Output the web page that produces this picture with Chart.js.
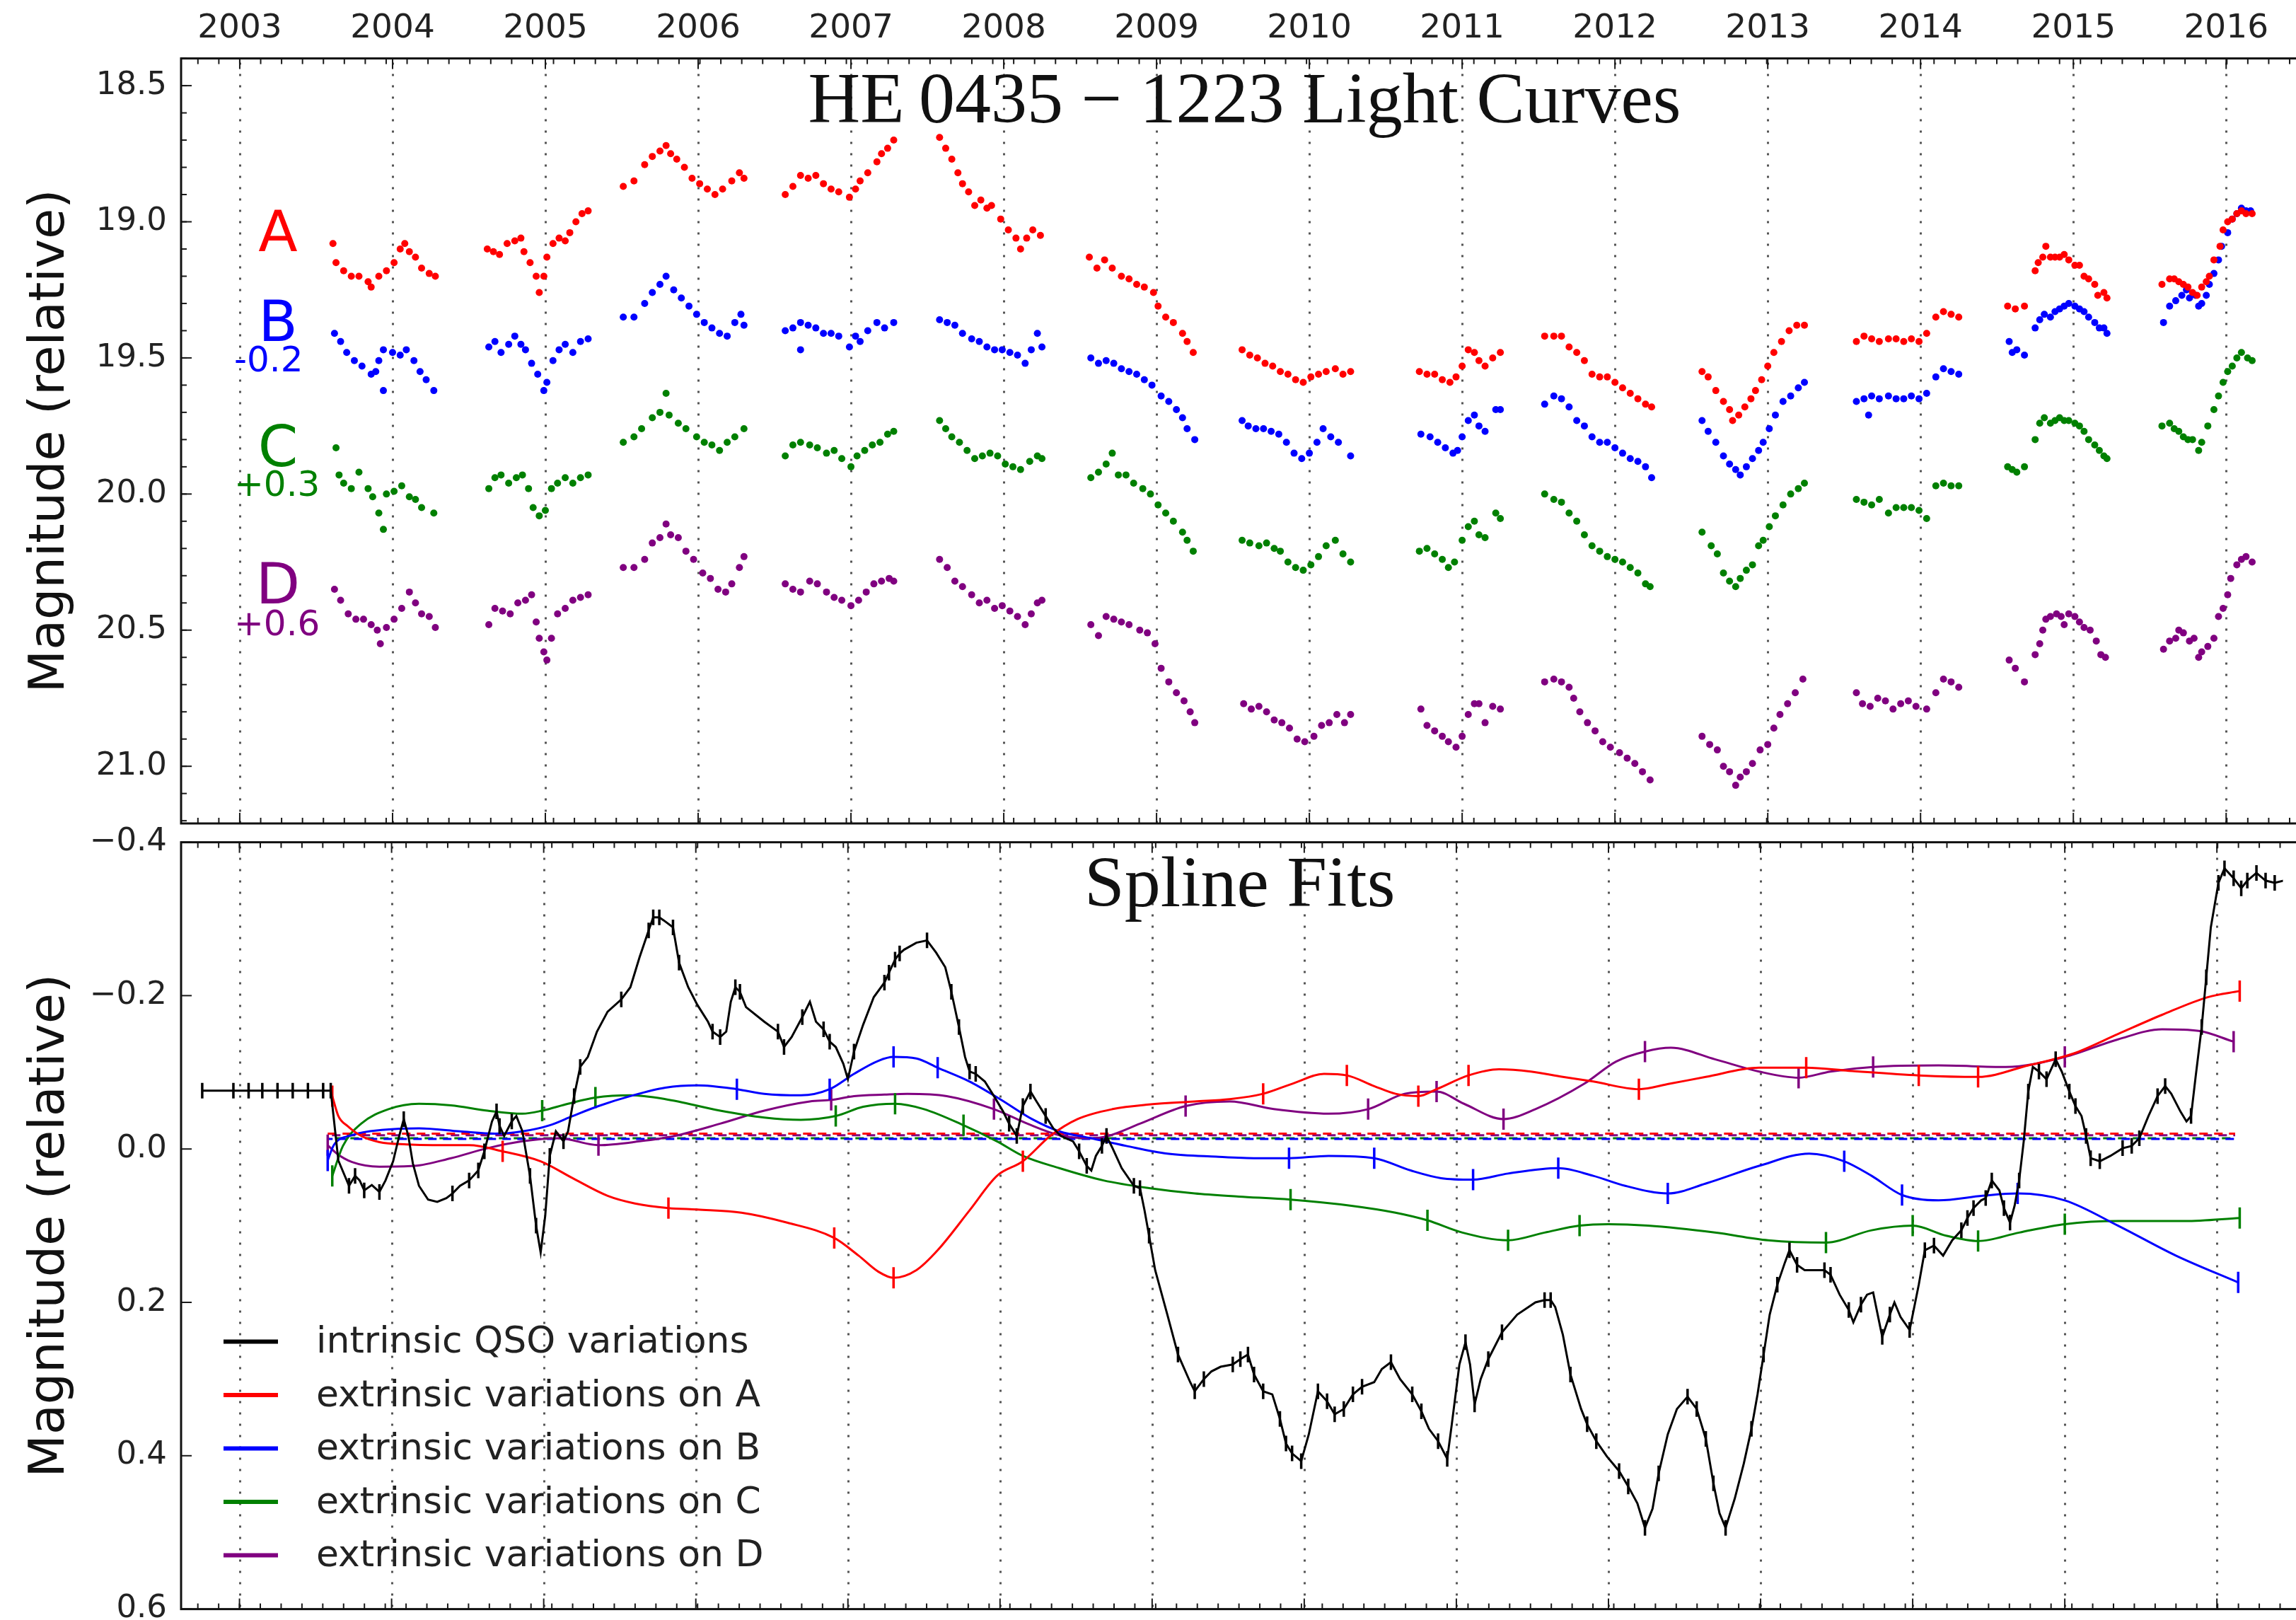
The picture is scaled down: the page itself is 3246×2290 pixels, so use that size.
<!DOCTYPE html>
<html>
<head>
<meta charset="utf-8">
<script src="https://cdn.jsdelivr.net/npm/chart.js@4.4.1/dist/chart.umd.min.js"></script>
<style>
  html, body { margin: 0; padding: 0; background: #ffffff; }
  #wrap { position: relative; width: 3246px; height: 2290px; overflow: hidden; background: #ffffff; }
  #lc { position: absolute; left: 0; top: 0; }
  #sp { position: absolute; left: 0; top: 1100px; }
</style>
</head>
<body>
<div id="wrap">
  <canvas id="lc" width="3246" height="1240"></canvas>
  <canvas id="sp" width="3246" height="1240"></canvas>
</div>
<script>
// ---------------- data ----------------
const yearTicks = [2003, 2004, 2005, 2006, 2007, 2008, 2009, 2010, 2011, 2012, 2013, 2014, 2015, 2016];
const magTicks = [18.5, 19.0, 19.5, 20.0, 20.5, 21.0];
const fitTicks = [-0.4, -0.2, 0.0, 0.2, 0.4, 0.6];

const imageNames = ['A', 'B', 'C', 'D'];
const imageOffsets = [0, -0.2, 0.3, 0.6];   // magnitude shift applied for display

// light curves: [decimal year, magnitude] (unshifted)
const lcA = [
  [2003.61,19.08],[2003.63,19.15],[2003.68,19.18],[2003.73,19.20],[2003.78,19.20],[2003.84,19.22],[2003.86,19.24],[2003.91,19.20],[2003.96,19.18],[2004.01,19.15],[2004.05,19.10],[2004.08,19.08],[2004.11,19.11],[2004.15,19.13],[2004.19,19.17],[2004.24,19.19],[2004.28,19.20],
  [2004.62,19.10],[2004.66,19.11],[2004.70,19.12],[2004.75,19.08],[2004.80,19.07],[2004.84,19.06],[2004.86,19.11],[2004.90,19.15],[2004.94,19.20],[2004.96,19.26],[2004.99,19.20],[2005.01,19.13],[2005.05,19.08],[2005.09,19.06],[2005.13,19.07],[2005.16,19.04],[2005.20,19.00],[2005.24,18.97],[2005.28,18.96],
  [2005.51,18.87],[2005.58,18.85],[2005.65,18.79],[2005.70,18.76],[2005.75,18.74],[2005.79,18.72],[2005.82,18.75],[2005.86,18.77],[2005.91,18.80],[2005.96,18.84],[2006.01,18.86],[2006.06,18.88],[2006.11,18.90],[2006.16,18.88],[2006.22,18.85],[2006.27,18.82],[2006.30,18.84],
  [2006.57,18.90],[2006.62,18.87],[2006.67,18.83],[2006.72,18.84],[2006.77,18.83],[2006.82,18.86],[2006.87,18.88],[2006.92,18.89],[2006.99,18.91],[2007.03,18.88],[2007.06,18.85],[2007.11,18.82],[2007.17,18.78],[2007.20,18.75],[2007.24,18.73],[2007.28,18.70],
  [2007.58,18.69],[2007.62,18.73],[2007.66,18.77],[2007.70,18.82],[2007.73,18.86],[2007.77,18.89],[2007.81,18.94],[2007.85,18.92],[2007.89,18.95],[2007.92,18.94],[2007.98,18.99],[2008.03,19.03],[2008.08,19.06],[2008.11,19.10],[2008.15,19.06],[2008.19,19.03],[2008.24,19.05],
  [2008.56,19.13],[2008.61,19.17],[2008.66,19.14],[2008.71,19.17],[2008.77,19.20],[2008.82,19.21],[2008.87,19.23],[2008.92,19.24],[2008.98,19.26],[2009.01,19.31],[2009.06,19.35],[2009.11,19.37],[2009.17,19.41],[2009.20,19.44],[2009.24,19.48],
  [2009.56,19.47],[2009.61,19.49],[2009.66,19.50],[2009.71,19.52],[2009.76,19.53],[2009.81,19.55],[2009.86,19.56],[2009.91,19.58],[2009.96,19.59],[2010.01,19.57],[2010.06,19.56],[2010.11,19.55],[2010.17,19.54],[2010.22,19.56],[2010.27,19.55],
  [2010.72,19.55],[2010.77,19.56],[2010.82,19.56],[2010.87,19.58],[2010.92,19.59],[2010.96,19.57],[2011.00,19.53],[2011.04,19.47],[2011.08,19.48],[2011.11,19.51],[2011.15,19.53],[2011.20,19.50],[2011.25,19.48],
  [2011.54,19.42],[2011.60,19.42],[2011.65,19.42],[2011.70,19.46],[2011.75,19.48],[2011.80,19.51],[2011.85,19.56],[2011.90,19.57],[2011.95,19.57],[2012.00,19.59],[2012.05,19.61],[2012.10,19.63],[2012.15,19.65],[2012.20,19.67],[2012.24,19.68],
  [2012.57,19.55],[2012.61,19.57],[2012.66,19.62],[2012.71,19.66],[2012.75,19.69],[2012.77,19.73],[2012.81,19.71],[2012.85,19.68],[2012.89,19.65],[2012.92,19.62],[2012.96,19.58],[2013.00,19.53],[2013.04,19.48],[2013.09,19.44],[2013.14,19.40],[2013.19,19.38],[2013.24,19.38],
  [2013.58,19.44],[2013.63,19.42],[2013.68,19.43],[2013.73,19.44],[2013.79,19.43],[2013.84,19.43],[2013.89,19.44],[2013.94,19.43],[2013.99,19.44],[2014.04,19.41],[2014.10,19.35],[2014.15,19.33],[2014.20,19.34],[2014.25,19.35],
  [2014.57,19.31],[2014.62,19.32],[2014.68,19.31],[2014.75,19.18],[2014.77,19.15],[2014.80,19.13],[2014.82,19.09],[2014.85,19.13],[2014.88,19.13],[2014.91,19.13],[2014.94,19.12],[2014.97,19.14],[2015.01,19.16],[2015.04,19.16],[2015.07,19.20],[2015.10,19.21],[2015.14,19.23],[2015.16,19.27],[2015.20,19.26],[2015.22,19.28],
  [2015.58,19.23],[2015.63,19.21],[2015.66,19.21],[2015.69,19.22],[2015.72,19.23],[2015.75,19.24],[2015.78,19.26],[2015.81,19.27],[2015.84,19.24],[2015.87,19.22],[2015.89,19.20],[2015.92,19.14],[2015.96,19.09],[2015.98,19.03],[2016.01,19.00],[2016.04,18.99],[2016.07,18.97],[2016.10,18.96],[2016.13,18.97],[2016.17,18.97]
];
const lcB = [
  [2003.62,19.61],[2003.66,19.64],[2003.70,19.68],[2003.75,19.71],[2003.80,19.73],[2003.86,19.76],[2003.89,19.75],[2003.91,19.71],[2003.94,19.67],[2003.94,19.82],[2004.00,19.68],[2004.05,19.69],[2004.09,19.67],[2004.14,19.71],[2004.18,19.75],[2004.22,19.78],[2004.27,19.82],
  [2004.63,19.66],[2004.67,19.64],[2004.71,19.68],[2004.76,19.65],[2004.80,19.62],[2004.84,19.65],[2004.87,19.67],[2004.91,19.72],[2004.95,19.76],[2004.99,19.82],[2005.01,19.79],[2005.05,19.71],[2005.09,19.67],[2005.13,19.65],[2005.18,19.68],[2005.23,19.64],[2005.28,19.63],
  [2005.51,19.55],[2005.58,19.55],[2005.65,19.50],[2005.70,19.46],[2005.75,19.43],[2005.79,19.40],[2005.84,19.45],[2005.89,19.48],[2005.94,19.51],[2005.99,19.54],[2006.04,19.57],[2006.09,19.59],[2006.14,19.61],[2006.19,19.62],[2006.24,19.57],[2006.28,19.54],[2006.30,19.58],
  [2006.57,19.60],[2006.62,19.59],[2006.67,19.57],[2006.67,19.67],[2006.72,19.58],[2006.77,19.59],[2006.82,19.61],[2006.87,19.61],[2006.92,19.62],[2006.99,19.66],[2007.03,19.62],[2007.06,19.64],[2007.11,19.60],[2007.17,19.57],[2007.22,19.59],[2007.28,19.57],
  [2007.58,19.56],[2007.63,19.57],[2007.68,19.58],[2007.73,19.61],[2007.79,19.63],[2007.84,19.64],[2007.89,19.66],[2007.94,19.67],[2007.99,19.67],[2008.04,19.68],[2008.09,19.69],[2008.14,19.72],[2008.18,19.67],[2008.22,19.61],[2008.25,19.66],
  [2008.57,19.70],[2008.62,19.72],[2008.67,19.71],[2008.72,19.72],[2008.77,19.74],[2008.82,19.75],[2008.87,19.76],[2008.92,19.78],[2008.97,19.80],[2009.03,19.84],[2009.08,19.86],[2009.13,19.89],[2009.17,19.92],[2009.20,19.96],[2009.25,20.00],
  [2009.56,19.93],[2009.60,19.95],[2009.65,19.96],[2009.70,19.96],[2009.75,19.97],[2009.80,19.98],[2009.85,20.01],[2009.90,20.05],[2009.95,20.07],[2010.00,20.05],[2010.05,20.01],[2010.09,19.96],[2010.14,19.99],[2010.19,20.01],[2010.27,20.06],
  [2010.73,19.98],[2010.79,19.99],[2010.84,20.01],[2010.89,20.03],[2010.94,20.05],[2010.97,20.04],[2011.00,19.99],[2011.04,19.93],[2011.08,19.91],[2011.11,19.95],[2011.15,19.97],[2011.22,19.89],[2011.25,19.89],
  [2011.54,19.87],[2011.60,19.84],[2011.65,19.85],[2011.70,19.88],[2011.75,19.93],[2011.80,19.95],[2011.85,19.99],[2011.90,20.01],[2011.95,20.01],[2012.00,20.03],[2012.05,20.05],[2012.10,20.07],[2012.15,20.08],[2012.20,20.10],[2012.24,20.14],
  [2012.57,19.93],[2012.61,19.97],[2012.66,20.01],[2012.71,20.06],[2012.75,20.09],[2012.79,20.11],[2012.82,20.13],[2012.86,20.10],[2012.90,20.07],[2012.94,20.04],[2012.97,20.01],[2013.01,19.96],[2013.05,19.91],[2013.10,19.86],[2013.15,19.84],[2013.20,19.81],[2013.24,19.79],
  [2013.58,19.86],[2013.63,19.85],[2013.66,19.91],[2013.68,19.84],[2013.73,19.85],[2013.79,19.84],[2013.84,19.85],[2013.89,19.85],[2013.94,19.84],[2013.99,19.85],[2014.04,19.83],[2014.10,19.77],[2014.15,19.74],[2014.20,19.75],[2014.25,19.76],
  [2014.58,19.64],[2014.60,19.68],[2014.63,19.67],[2014.68,19.69],[2014.75,19.59],[2014.78,19.56],[2014.81,19.54],[2014.85,19.55],[2014.88,19.53],[2014.91,19.52],[2014.94,19.51],[2014.97,19.50],[2015.01,19.51],[2015.04,19.52],[2015.07,19.53],[2015.10,19.55],[2015.14,19.57],[2015.17,19.59],[2015.20,19.59],[2015.22,19.61],
  [2015.59,19.57],[2015.63,19.51],[2015.67,19.49],[2015.71,19.47],[2015.74,19.45],[2015.76,19.48],[2015.80,19.47],[2015.82,19.51],[2015.84,19.50],[2015.87,19.47],[2015.89,19.43],[2015.92,19.39],[2015.95,19.34],[2015.97,19.29],[2016.01,19.24],[2016.04,19.19],[2016.07,19.17],[2016.10,19.15],[2016.13,19.16],[2016.16,19.16]
];
const lcC = [
  [2003.63,19.53],[2003.65,19.63],[2003.68,19.66],[2003.73,19.68],[2003.78,19.62],[2003.84,19.68],[2003.87,19.71],[2003.91,19.77],[2003.94,19.83],[2003.96,19.70],[2004.01,19.69],[2004.06,19.67],[2004.11,19.71],[2004.15,19.72],[2004.19,19.75],[2004.27,19.77],
  [2004.63,19.68],[2004.67,19.64],[2004.71,19.63],[2004.76,19.66],[2004.81,19.64],[2004.85,19.63],[2004.89,19.68],[2004.92,19.75],[2004.96,19.78],[2005.00,19.76],[2005.04,19.68],[2005.08,19.66],[2005.13,19.64],[2005.18,19.66],[2005.23,19.64],[2005.28,19.63],
  [2005.51,19.51],[2005.58,19.49],[2005.63,19.46],[2005.70,19.42],[2005.75,19.40],[2005.79,19.33],[2005.81,19.41],[2005.87,19.44],[2005.92,19.46],[2005.99,19.49],[2006.04,19.51],[2006.09,19.52],[2006.14,19.54],[2006.19,19.51],[2006.24,19.49],[2006.30,19.46],
  [2006.57,19.56],[2006.62,19.52],[2006.67,19.51],[2006.73,19.52],[2006.78,19.53],[2006.84,19.55],[2006.89,19.54],[2006.94,19.57],[2007.00,19.60],[2007.04,19.56],[2007.09,19.54],[2007.14,19.52],[2007.19,19.51],[2007.24,19.48],[2007.28,19.47],
  [2007.58,19.43],[2007.62,19.46],[2007.66,19.49],[2007.71,19.51],[2007.76,19.54],[2007.81,19.57],[2007.86,19.56],[2007.91,19.55],[2007.96,19.56],[2008.01,19.59],[2008.06,19.60],[2008.11,19.61],[2008.17,19.58],[2008.22,19.56],[2008.25,19.57],
  [2008.57,19.64],[2008.62,19.62],[2008.67,19.59],[2008.71,19.55],[2008.75,19.63],[2008.80,19.63],[2008.85,19.66],[2008.91,19.68],[2008.96,19.70],[2009.01,19.74],[2009.06,19.77],[2009.11,19.80],[2009.17,19.84],[2009.20,19.87],[2009.24,19.91],
  [2009.56,19.87],[2009.61,19.88],[2009.67,19.89],[2009.72,19.88],[2009.77,19.90],[2009.81,19.91],[2009.86,19.95],[2009.91,19.97],[2009.96,19.98],[2010.01,19.96],[2010.06,19.93],[2010.11,19.89],[2010.17,19.87],[2010.22,19.92],[2010.27,19.95],
  [2010.72,19.91],[2010.77,19.90],[2010.82,19.92],[2010.87,19.94],[2010.91,19.97],[2010.95,19.95],[2011.00,19.87],[2011.04,19.82],[2011.08,19.80],[2011.11,19.85],[2011.15,19.86],[2011.22,19.77],[2011.25,19.79],
  [2011.54,19.70],[2011.60,19.72],[2011.65,19.73],[2011.70,19.77],[2011.75,19.80],[2011.80,19.85],[2011.85,19.89],[2011.90,19.91],[2011.95,19.93],[2012.00,19.94],[2012.05,19.95],[2012.10,19.97],[2012.15,19.99],[2012.20,20.03],[2012.23,20.04],
  [2012.57,19.84],[2012.63,19.89],[2012.67,19.92],[2012.71,19.99],[2012.75,20.02],[2012.79,20.04],[2012.82,20.01],[2012.86,19.98],[2012.90,19.96],[2012.94,19.89],[2012.97,19.87],[2013.01,19.82],[2013.05,19.78],[2013.10,19.74],[2013.15,19.70],[2013.20,19.68],[2013.24,19.66],
  [2013.58,19.72],[2013.63,19.73],[2013.68,19.74],[2013.73,19.72],[2013.79,19.77],[2013.84,19.75],[2013.89,19.75],[2013.94,19.75],[2013.99,19.76],[2014.04,19.79],[2014.10,19.67],[2014.15,19.66],[2014.20,19.67],[2014.25,19.67],
  [2014.57,19.60],[2014.60,19.61],[2014.63,19.62],[2014.68,19.60],[2014.75,19.50],[2014.78,19.44],[2014.81,19.42],[2014.85,19.44],[2014.88,19.43],[2014.91,19.42],[2014.94,19.43],[2014.97,19.43],[2015.01,19.44],[2015.04,19.45],[2015.07,19.47],[2015.10,19.50],[2015.14,19.52],[2015.17,19.54],[2015.20,19.56],[2015.22,19.57],
  [2015.58,19.45],[2015.63,19.44],[2015.66,19.46],[2015.69,19.47],[2015.72,19.49],[2015.75,19.50],[2015.78,19.50],[2015.82,19.54],[2015.84,19.51],[2015.88,19.45],[2015.92,19.39],[2015.95,19.34],[2015.98,19.29],[2016.01,19.25],[2016.04,19.23],[2016.07,19.20],[2016.10,19.18],[2016.14,19.20],[2016.17,19.21]
];
const lcD = [
  [2003.62,19.75],[2003.66,19.79],[2003.71,19.84],[2003.76,19.86],[2003.81,19.86],[2003.86,19.88],[2003.90,19.90],[2003.92,19.95],[2003.96,19.89],[2004.01,19.86],[2004.06,19.82],[2004.11,19.76],[2004.15,19.80],[2004.19,19.84],[2004.24,19.85],[2004.28,19.89],
  [2004.63,19.88],[2004.67,19.82],[2004.72,19.83],[2004.77,19.84],[2004.82,19.80],[2004.87,19.79],[2004.91,19.77],[2004.94,19.87],[2004.96,19.93],[2004.99,19.98],[2005.01,20.01],[2005.04,19.93],[2005.08,19.84],[2005.13,19.82],[2005.18,19.79],[2005.23,19.78],[2005.28,19.77],
  [2005.51,19.67],[2005.58,19.67],[2005.65,19.64],[2005.70,19.58],[2005.75,19.56],[2005.79,19.51],[2005.82,19.55],[2005.87,19.56],[2005.92,19.61],[2005.97,19.64],[2006.03,19.69],[2006.08,19.71],[2006.13,19.75],[2006.18,19.76],[2006.22,19.73],[2006.27,19.67],[2006.30,19.63],
  [2006.57,19.73],[2006.62,19.75],[2006.67,19.76],[2006.73,19.72],[2006.78,19.73],[2006.84,19.76],[2006.89,19.78],[2006.94,19.79],[2007.00,19.81],[2007.05,19.79],[2007.10,19.76],[2007.15,19.73],[2007.20,19.72],[2007.25,19.71],[2007.28,19.72],
  [2007.58,19.64],[2007.63,19.67],[2007.68,19.72],[2007.73,19.74],[2007.79,19.77],[2007.84,19.80],[2007.89,19.79],[2007.94,19.82],[2007.99,19.81],[2008.04,19.83],[2008.09,19.85],[2008.14,19.88],[2008.18,19.84],[2008.22,19.80],[2008.25,19.79],
  [2008.57,19.88],[2008.62,19.92],[2008.67,19.85],[2008.72,19.86],[2008.77,19.87],[2008.82,19.88],[2008.89,19.90],[2008.94,19.91],[2008.99,19.95],[2009.03,20.04],[2009.08,20.09],[2009.13,20.13],[2009.18,20.16],[2009.22,20.20],[2009.25,20.24],
  [2009.57,20.17],[2009.62,20.19],[2009.67,20.18],[2009.72,20.20],[2009.77,20.23],[2009.82,20.24],[2009.87,20.26],[2009.92,20.30],[2009.97,20.31],[2010.03,20.29],[2010.08,20.25],[2010.13,20.24],[2010.18,20.21],[2010.23,20.24],[2010.27,20.21],
  [2010.73,20.19],[2010.77,20.25],[2010.82,20.27],[2010.87,20.29],[2010.91,20.31],[2010.96,20.33],[2011.00,20.29],[2011.04,20.21],[2011.08,20.17],[2011.11,20.17],[2011.15,20.24],[2011.20,20.18],[2011.25,20.19],
  [2011.54,20.09],[2011.60,20.08],[2011.65,20.09],[2011.70,20.11],[2011.73,20.15],[2011.77,20.20],[2011.82,20.24],[2011.87,20.27],[2011.92,20.31],[2011.97,20.33],[2012.03,20.35],[2012.08,20.37],[2012.13,20.39],[2012.18,20.42],[2012.23,20.45],
  [2012.57,20.29],[2012.62,20.32],[2012.67,20.34],[2012.71,20.40],[2012.75,20.42],[2012.79,20.47],[2012.82,20.44],[2012.86,20.42],[2012.90,20.39],[2012.95,20.34],[2013.00,20.32],[2013.04,20.26],[2013.08,20.21],[2013.13,20.17],[2013.18,20.13],[2013.23,20.08],
  [2013.58,20.13],[2013.62,20.17],[2013.67,20.18],[2013.72,20.15],[2013.77,20.16],[2013.82,20.19],[2013.87,20.17],[2013.92,20.16],[2013.97,20.18],[2014.04,20.19],[2014.10,20.13],[2014.15,20.08],[2014.20,20.09],[2014.25,20.11],
  [2014.58,20.01],[2014.62,20.04],[2014.68,20.09],[2014.75,19.99],[2014.78,19.95],[2014.80,19.90],[2014.82,19.86],[2014.85,19.85],[2014.89,19.84],[2014.92,19.85],[2014.94,19.88],[2014.97,19.84],[2015.01,19.85],[2015.04,19.87],[2015.07,19.89],[2015.11,19.90],[2015.15,19.94],[2015.18,19.99],[2015.21,20.00],
  [2015.59,19.97],[2015.63,19.94],[2015.67,19.93],[2015.69,19.90],[2015.72,19.91],[2015.76,19.94],[2015.79,19.93],[2015.82,20.00],[2015.84,19.98],[2015.88,19.96],[2015.92,19.93],[2015.95,19.85],[2015.98,19.82],[2016.01,19.77],[2016.03,19.71],[2016.07,19.66],[2016.10,19.64],[2016.13,19.63],[2016.17,19.65]
];

// spline fits: [decimal year, relative magnitude, knot flag]
const qsoIntrinsic = [
  [2002.755,-0.076,1],[2002.96,-0.076,1],[2003.06,-0.076,1],[2003.15,-0.076,1],[2003.25,-0.076,1],[2003.35,-0.076,1],[2003.45,-0.076,1],[2003.55,-0.076,1],[2003.60,-0.076,1],
  [2003.65,0.015,0],[2003.72,0.048,1],[2003.76,0.035,1],[2003.79,0.041,0],[2003.82,0.054,1],[2003.87,0.047,0],[2003.92,0.056,1],[2003.96,0.041,0],[2004.01,0.016,0],[2004.05,-0.017,0],[2004.08,-0.039,1],[2004.11,-0.017,0],[2004.14,0.019,0],[2004.18,0.048,0],[2004.24,0.066,0],[2004.30,0.069,0],[2004.36,0.064,0],[2004.40,0.058,1],[2004.45,0.048,0],[2004.51,0.041,1],[2004.57,0.028,1],[2004.61,0.003,1],[2004.66,-0.036,0],[2004.69,-0.049,1],[2004.71,-0.030,1],[2004.74,-0.017,0],[2004.79,-0.036,1],[2004.82,-0.043,0],[2004.86,-0.023,0],[2004.91,0.035,1],[2004.95,0.100,1],[2004.98,0.135,0],[2005.01,0.087,0],[2005.04,0.009,1],[2005.08,-0.023,0],[2005.13,-0.010,1],[2005.16,-0.023,0],[2005.20,-0.069,1],[2005.24,-0.107,1],[2005.29,-0.120,0],[2005.35,-0.153,0],[2005.42,-0.179,0],[2005.51,-0.195,1],[2005.57,-0.211,0],[2005.63,-0.250,0],[2005.69,-0.285,1],[2005.72,-0.302,1],[2005.76,-0.302,1],[2005.79,-0.298,0],[2005.85,-0.289,1],[2005.89,-0.243,1],[2005.95,-0.211,0],[2006.01,-0.188,0],[2006.08,-0.166,0],[2006.11,-0.153,1],[2006.16,-0.146,1],[2006.20,-0.153,0],[2006.23,-0.192,0],[2006.26,-0.211,1],[2006.29,-0.205,1],[2006.33,-0.185,0],[2006.45,-0.166,0],[2006.54,-0.153,1],[2006.58,-0.133,1],[2006.63,-0.146,0],[2006.70,-0.172,1],[2006.75,-0.192,0],[2006.79,-0.166,0],[2006.84,-0.156,1],[2006.88,-0.140,1],[2006.92,-0.133,0],[2006.97,-0.111,0],[2007.00,-0.091,0],[2007.04,-0.127,1],[2007.10,-0.162,0],[2007.17,-0.198,0],[2007.24,-0.217,1],
  [2007.27,-0.230,1],[2007.31,-0.247,1],[2007.34,-0.255,1],[2007.37,-0.260,0],[2007.45,-0.269,0],[2007.52,-0.272,1],[2007.58,-0.256,0],[2007.64,-0.237,0],[2007.68,-0.205,1],[2007.73,-0.159,1],[2007.77,-0.120,0],[2007.80,-0.101,1],[2007.84,-0.098,1],[2007.90,-0.088,0],[2007.96,-0.069,0],[2008.02,-0.049,0],[2008.06,-0.033,1],[2008.11,-0.017,1],[2008.15,-0.056,1],[2008.20,-0.075,1],[2008.24,-0.062,0],[2008.30,-0.043,1],[2008.35,-0.027,0],[2008.40,-0.017,0],[2008.48,-0.010,0],[2008.52,0.003,1],[2008.57,0.022,1],[2008.60,0.028,0],[2008.63,0.009,0],[2008.67,-0.004,1],[2008.70,-0.017,1],[2008.74,-0.001,0],[2008.80,0.025,0],[2008.88,0.048,1],[2008.92,0.051,1],[2008.95,0.080,0],[2008.98,0.113,1],[2009.02,0.158,0],[2009.10,0.216,0],[2009.17,0.268,1],[2009.25,0.304,0],[2009.28,0.316,1],[2009.34,0.300,1],[2009.39,0.290,0],[2009.45,0.284,0],[2009.53,0.281,1],[2009.58,0.274,1],[2009.63,0.268,1],[2009.67,0.294,1],[2009.73,0.316,1],[2009.79,0.320,0],[2009.84,0.352,1],[2009.88,0.384,1],[2009.92,0.397,1],[2009.98,0.407,1],[2010.03,0.372,0],[2010.09,0.316,1],[2010.15,0.329,1],[2010.20,0.346,1],[2010.26,0.339,1],[2010.32,0.320,1],[2010.38,0.310,1],[2010.46,0.304,0],[2010.51,0.287,0],[2010.57,0.278,1],[2010.63,0.300,0],[2010.71,0.320,1],[2010.77,0.342,1],[2010.82,0.365,0],[2010.88,0.381,1],[2010.94,0.404,1],[2010.97,0.359,0],[2011.02,0.281,0],[2011.06,0.252,1],[2011.09,0.281,0],[2011.12,0.333,1],[2011.16,0.300,0],[2011.21,0.274,1],[2011.30,0.239,1],[2011.40,0.216,0],[2011.52,0.200,0],[2011.58,0.197,1],[2011.62,0.197,1],[2011.65,0.206,0],[2011.70,0.242,0],[2011.75,0.294,1],
  [2011.82,0.339,0],[2011.86,0.359,1],[2011.92,0.381,1],[2011.99,0.401,0],[2012.07,0.420,1],[2012.13,0.440,1],[2012.19,0.462,0],[2012.24,0.494,1],[2012.29,0.469,0],[2012.33,0.423,1],[2012.39,0.372,0],[2012.45,0.339,0],[2012.52,0.323,1],[2012.58,0.339,1],[2012.64,0.378,1],[2012.69,0.436,1],[2012.73,0.475,0],[2012.77,0.494,1],[2012.83,0.456,0],[2012.89,0.410,0],[2012.94,0.365,1],[2012.98,0.320,0],[2013.02,0.268,1],[2013.06,0.216,0],[2013.11,0.177,1],[2013.16,0.148,0],[2013.19,0.132,1],[2013.24,0.151,1],[2013.29,0.158,0],[2013.35,0.158,0],[2013.42,0.158,1],[2013.46,0.164,1],[2013.52,0.190,0],[2013.58,0.210,1],[2013.61,0.226,0],[2013.66,0.203,1],[2013.70,0.190,0],[2013.74,0.187,0],[2013.77,0.216,0],[2013.80,0.245,1],[2013.85,0.216,1],[2013.88,0.200,0],[2013.92,0.219,0],[2013.98,0.236,1],[2014.04,0.177,0],[2014.08,0.132,1],[2014.14,0.126,1],[2014.20,0.139,0],[2014.26,0.119,0],[2014.32,0.106,1],[2014.36,0.090,1],[2014.40,0.077,1],[2014.45,0.067,0],[2014.48,0.064,1],[2014.52,0.041,1],[2014.57,0.054,0],[2014.60,0.077,1],[2014.64,0.096,1],[2014.67,0.074,0],[2014.70,0.041,1],[2014.73,-0.010,0],[2014.76,-0.075,1],[2014.79,-0.107,0],[2014.83,-0.101,1],[2014.88,-0.091,1],[2014.94,-0.117,1],[2014.98,-0.101,0],[2015.03,-0.075,1],[2015.07,-0.056,1],[2015.11,-0.043,0],[2015.14,-0.017,1],[2015.17,0.012,1],[2015.23,0.016,1],[2015.30,0.009,0],[2015.38,-0.001,1],[2015.44,-0.004,1],[2015.49,-0.014,1],[2015.55,-0.043,0],[2015.61,-0.069,1],[2015.66,-0.082,1],[2015.70,-0.072,0],[2015.76,-0.049,0],[2015.80,-0.036,0],[2015.83,-0.043,1],[2015.86,-0.094,0],[2015.90,-0.159,1],[2015.93,-0.224,1],[2015.96,-0.289,0],[2016.01,-0.347,1],[2016.05,-0.366,1],[2016.11,-0.353,1],[2016.16,-0.340,1],[2016.20,-0.350,1],[2016.26,-0.360,1],[2016.32,-0.350,1],[2016.38,-0.347,1],[2016.44,-0.350,0]
];
const extA = [
  [2003.61,-0.069,1],[2003.65,-0.043,0],[2003.71,-0.030,0],[2003.80,-0.017,0],[2003.92,-0.009,0],[2004.10,-0.006,0],[2004.27,-0.005,0],[2004.51,-0.005,0],[2004.73,0.003,1],[2004.98,0.016,0],[2005.19,0.038,0],[2005.42,0.061,0],[2005.60,0.071,0],[2005.82,0.077,1],[2006.01,0.079,0],[2006.30,0.083,0],[2006.60,0.096,0],[2006.91,0.116,1],[2007.07,0.139,0],[2007.20,0.160,0],[2007.30,0.168,1],[2007.45,0.158,0],[2007.59,0.132,0],[2007.80,0.080,0],[2007.98,0.035,0],[2008.15,0.016,1],[2008.33,-0.017,0],[2008.51,-0.039,0],[2008.74,-0.052,0],[2008.98,-0.058,0],[2009.28,-0.062,0],[2009.51,-0.065,0],[2009.73,-0.072,1],[2009.92,-0.085,0],[2010.13,-0.098,0],[2010.28,-0.096,1],[2010.46,-0.082,0],[2010.60,-0.072,0],[2010.75,-0.069,1],[2010.87,-0.078,0],[2011.08,-0.096,1],[2011.28,-0.104,0],[2011.49,-0.101,0],[2011.70,-0.094,0],[2011.90,-0.088,0],[2012.20,-0.078,1],[2012.40,-0.085,0],[2012.64,-0.094,0],[2012.99,-0.106,0],[2013.30,-0.106,1],[2013.58,-0.102,0],[2014.04,-0.096,1],[2014.43,-0.094,1],[2014.76,-0.109,0],[2015.05,-0.124,0],[2015.35,-0.150,0],[2015.64,-0.175,0],[2015.94,-0.198,0],[2016.15,-0.206,1]
];
const extB = [
  [2003.58,0.015,1],[2003.62,-0.005,0],[2003.74,-0.018,0],[2003.95,-0.025,0],[2004.18,-0.027,0],[2004.45,-0.023,0],[2004.68,-0.020,0],[2004.86,-0.023,0],[2005.04,-0.031,0],[2005.19,-0.043,0],[2005.36,-0.056,0],[2005.57,-0.069,0],[2005.80,-0.080,0],[2006.01,-0.083,0],[2006.27,-0.078,1],[2006.45,-0.072,0],[2006.69,-0.070,0],[2006.88,-0.078,1],[2007.04,-0.098,0],[2007.20,-0.115,0],[2007.30,-0.120,1],[2007.45,-0.118,0],[2007.59,-0.106,1],[2007.80,-0.088,0],[2008.00,-0.065,0],[2008.21,-0.039,0],[2008.39,-0.023,0],[2008.60,-0.014,0],[2008.83,-0.004,0],[2009.10,0.006,0],[2009.42,0.010,0],[2009.69,0.012,0],[2009.90,0.012,1],[2010.16,0.009,0],[2010.46,0.012,1],[2010.70,0.028,0],[2010.90,0.038,0],[2011.11,0.040,1],[2011.34,0.032,0],[2011.67,0.025,1],[2011.90,0.035,0],[2012.11,0.048,0],[2012.39,0.058,1],[2012.64,0.045,0],[2012.99,0.022,0],[2013.32,0.006,0],[2013.55,0.016,1],[2013.73,0.035,0],[2013.93,0.060,1],[2014.17,0.067,0],[2014.46,0.061,0],[2014.69,0.058,1],[2015.00,0.067,0],[2015.35,0.100,0],[2015.73,0.139,0],[2016.14,0.174,1]
];
const extC = [
  [2003.61,0.035,1],[2003.68,-0.004,0],[2003.80,-0.033,0],[2003.98,-0.052,0],[2004.18,-0.059,0],[2004.39,-0.057,0],[2004.63,-0.050,0],[2004.86,-0.046,0],[2004.99,-0.050,1],[2005.16,-0.059,0],[2005.34,-0.067,1],[2005.57,-0.070,0],[2005.80,-0.065,0],[2006.16,-0.050,0],[2006.45,-0.041,0],[2006.69,-0.038,0],[2006.92,-0.043,1],[2007.10,-0.055,0],[2007.31,-0.059,1],[2007.50,-0.052,0],[2007.76,-0.031,1],[2007.98,-0.010,0],[2008.15,0.009,0],[2008.39,0.025,0],[2008.68,0.041,0],[2008.98,0.051,0],[2009.28,0.058,0],[2009.57,0.062,0],[2009.91,0.066,1],[2010.31,0.074,0],[2010.60,0.083,0],[2010.81,0.093,1],[2011.04,0.109,0],[2011.34,0.119,1],[2011.58,0.109,0],[2011.81,0.100,1],[2012.00,0.098,0],[2012.26,0.100,0],[2012.70,0.109,0],[2013.05,0.119,0],[2013.43,0.122,1],[2013.73,0.106,0],[2014.00,0.100,1],[2014.22,0.113,0],[2014.43,0.120,1],[2014.70,0.109,0],[2015.00,0.098,1],[2015.35,0.094,0],[2015.79,0.094,0],[2016.15,0.090,1]
];
const extD = [
  [2003.58,-0.005,1],[2003.64,0.006,0],[2003.74,0.017,0],[2003.92,0.023,0],[2004.15,0.022,0],[2004.39,0.012,0],[2004.63,-0.001,0],[2004.86,-0.010,0],[2005.10,-0.014,0],[2005.36,-0.005,1],[2005.63,-0.010,0],[2005.86,-0.017,0],[2006.16,-0.033,0],[2006.45,-0.050,0],[2006.75,-0.062,0],[2006.89,-0.064,1],[2007.04,-0.069,0],[2007.24,-0.071,0],[2007.39,-0.072,0],[2007.65,-0.069,0],[2007.96,-0.052,1],[2008.18,-0.033,0],[2008.39,-0.018,0],[2008.60,-0.014,0],[2008.71,-0.017,0],[2008.92,-0.033,0],[2009.22,-0.056,1],[2009.51,-0.062,0],[2009.80,-0.052,0],[2010.16,-0.046,0],[2010.42,-0.052,1],[2010.66,-0.072,0],[2010.87,-0.075,1],[2011.05,-0.059,0],[2011.31,-0.039,1],[2011.52,-0.052,0],[2011.84,-0.085,0],[2012.05,-0.114,0],[2012.24,-0.127,1],[2012.41,-0.132,0],[2012.70,-0.117,0],[2012.99,-0.101,0],[2013.25,-0.093,1],[2013.46,-0.101,0],[2013.74,-0.107,1],[2014.17,-0.109,0],[2014.61,-0.107,0],[2015.00,-0.120,1],[2015.35,-0.143,0],[2015.64,-0.156,0],[2015.88,-0.154,0],[2016.11,-0.140,1]
];
const extMeans = [-0.020, -0.013, -0.014, -0.018];   // mean level of each extrinsic spline (A, B, C, D)
const meanSpan = [2003.58, 2016.12];

// ---------------- styling ----------------
const X_MIN = 2002.616, X_MAX = 2016.434;
const imageColors = ['#ff0000', '#0000ff', '#008000', '#800080'];
const SANS = '"DejaVu Sans", "Bitstream Vera Sans", sans-serif';
const SERIF = '"Liberation Serif", "DejaVu Serif", serif';
Chart.defaults.font.family = SANS;
Chart.defaults.color = '#222';

function strokeLine(ctx, x1, y1, x2, y2) {
  ctx.beginPath(); ctx.moveTo(x1, y1); ctx.lineTo(x2, y2); ctx.stroke();
}

// frame, dotted year grid, inward ticks, titles, annotations and legend
const decor = {
  id: 'decor',
  beforeDatasetsDraw(chart) {
    const {ctx, chartArea: a, scales: {x}} = chart;
    ctx.save();
    ctx.strokeStyle = '#555555';
    ctx.lineWidth = 3;
    ctx.setLineDash([3, 13]);
    for (const v of yearTicks) {
      const px = Math.round(x.getPixelForValue(v)) + 0.5;
      strokeLine(ctx, px, a.top + 6, px, a.bottom);
    }
    ctx.restore();
  },
  afterDatasetsDraw(chart, args, o) {
    const {ctx, chartArea: a, scales: {x, y}} = chart;
    ctx.save();
    ctx.strokeStyle = '#1a1a1a';
    ctx.lineWidth = 2;
    const step = 50 / 365.25;
    for (let t = 2003 - 4 * step; t <= x.max; t += step) {
      if (t < x.min) continue;
      const px = x.getPixelForValue(t);
      strokeLine(ctx, px, a.top, px, a.top + 8);
      strokeLine(ctx, px, a.bottom, px, a.bottom - 8);
    }
    for (const v of yearTicks) {
      const px = x.getPixelForValue(v);
      strokeLine(ctx, px, a.top, px, a.top + 15);
      strokeLine(ctx, px, a.bottom, px, a.bottom - 15);
    }
    for (const v of o.yMajor) {
      const py = y.getPixelForValue(v);
      strokeLine(ctx, a.left, py, a.left + 15, py);
    }
    if (o.yMinor) {
      for (let k = Math.ceil(y.min * 10); k <= Math.floor(y.max * 10); k++) {
        const py = y.getPixelForValue(k / 10);
        strokeLine(ctx, a.left, py, a.left + 8, py);
      }
    }
    ctx.lineWidth = 3;
    ctx.strokeStyle = '#111';
    ctx.strokeRect(a.left, a.top, a.right - a.left + 20, a.bottom - a.top);

    // panel title
    ctx.fillStyle = '#111';
    ctx.font = `102px ${SERIF}`;
    ctx.textAlign = 'center';
    ctx.textBaseline = 'alphabetic';
    ctx.fillText(o.title, (a.left + a.right) / 2 + 11, a.top + 90);

    // axis title
    ctx.save();
    ctx.translate(72, (a.top + a.bottom) / 2);
    ctx.rotate(-Math.PI / 2);
    ctx.font = `70px ${SANS}`;
    ctx.textBaseline = 'middle';
    ctx.fillStyle = '#111';
    ctx.fillText('Magnitude (relative)', 0, 0);
    ctx.restore();

    // image letters and display offsets
    if (o.imageLabels) {
      for (const lb of o.imageLabels) {
        ctx.fillStyle = lb.color;
        ctx.font = `${lb.size}px ${SANS}`;
        ctx.textAlign = lb.align;
        ctx.textBaseline = 'alphabetic';
        ctx.fillText(lb.text, x.getPixelForValue(lb.t), y.getPixelForValue(lb.m));
      }
    }

    // legend
    if (o.legend) {
      const items = chart.data.datasets.filter(d => d.legendEntry);
      items.forEach((d, i) => {
        const cy = a.top + 706 + i * 75.5;
        ctx.strokeStyle = d.borderColor;
        ctx.lineWidth = 6;
        strokeLine(ctx, a.left + 60, cy, a.left + 137, cy);
        ctx.fillStyle = '#222';
        ctx.font = `52px ${SANS}`;
        ctx.textAlign = 'left';
        ctx.textBaseline = 'middle';
        ctx.fillText(d.label, a.left + 191, cy + 2);
      });
    }
    ctx.restore();
  }
};

// ---------------- light curves panel ----------------
const lightCurves = [lcA, lcB, lcC, lcD];
const lcDatasets = lightCurves.map((lc, i) => ({
  label: imageNames[i],
  data: lc.map(([t, m]) => ({x: t, y: m + imageOffsets[i]})),
  backgroundColor: imageColors[i],
  borderWidth: 0,
  pointRadius: 5,
  pointHoverRadius: 5,
  showLine: false
}));

const offsetText = off => (off > 0 ? '+' : '-') + Math.abs(off).toFixed(1);
const imageLabels = [];
const letterMag = [19.107, 19.437, 19.899, 20.403];
const offsetMag = [null, 19.549, 20.006, 20.52];
imageNames.forEach((name, i) => {
  imageLabels.push({text: name, color: imageColors[i], t: 2003.25, m: letterMag[i], size: 81, align: 'center'});
  if (imageOffsets[i] !== 0) {
    imageLabels.push({text: offsetText(imageOffsets[i]), color: imageColors[i], t: 2002.963, m: offsetMag[i], size: 50, align: 'left'});
  }
});

new Chart(document.getElementById('lc'), {
  type: 'scatter',
  data: {datasets: lcDatasets},
  options: {
    responsive: false,
    animation: false,
    events: [],
    devicePixelRatio: 1,
    layout: {padding: {left: 0, right: 0, top: 0, bottom: 76}},
    plugins: {
      legend: {display: false},
      tooltip: {enabled: false},
      decor: {title: 'HE\u20090435 \u2212 1223 Light Curves', yMajor: magTicks, yMinor: true, imageLabels: imageLabels}
    },
    scales: {
      x: {
        type: 'linear', position: 'top', min: X_MIN, max: X_MAX,
        afterBuildTicks: s => { s.ticks = yearTicks.map(v => ({value: v})); },
        afterFit: s => { s.height = 82.6; },
        grid: {display: false, drawTicks: false},
        border: {display: false},
        ticks: {callback: v => String(v), font: {size: 47}, color: '#222', padding: 14, autoSkip: false, maxRotation: 0, minRotation: 0}
      },
      y: {
        type: 'linear', reverse: true, min: 18.4, max: 21.21,
        afterBuildTicks: s => { s.ticks = magTicks.map(v => ({value: v})); },
        afterFit: s => { s.width = 256; },
        grid: {display: false, drawTicks: false},
        border: {display: false},
        ticks: {callback: v => v.toFixed(1), font: {size: 45}, color: '#222', padding: 20}
      }
    }
  },
  plugins: [decor]
});

// ---------------- spline fits panel ----------------
const toXY = arr => arr.map(p => ({x: p[0], y: p[1]}));
const knotsOf = arr => arr.filter(p => p[2]).map(p => ({x: p[0], y: p[1]}));
const extFits = [extA, extB, extC, extD];

const fitDatasets = [];
fitDatasets.push({
  label: 'intrinsic QSO variations', legendEntry: true,
  data: toXY(qsoIntrinsic), showLine: true, borderColor: '#000', borderWidth: 3,
  pointRadius: 0, tension: 0
});
fitDatasets.push({
  label: 'qso knots', data: knotsOf(qsoIntrinsic), showLine: false,
  pointStyle: 'line', rotation: 90, pointRadius: 11, pointHoverRadius: 11,
  borderColor: '#000', borderWidth: 3.5
});
extFits.forEach((fit, i) => {
  fitDatasets.push({
    label: 'extrinsic variations on ' + imageNames[i], legendEntry: true,
    data: toXY(fit), showLine: true, borderColor: imageColors[i], borderWidth: 3,
    pointRadius: 0, cubicInterpolationMode: 'monotone'
  });
  fitDatasets.push({
    label: imageNames[i] + ' knots', data: knotsOf(fit), showLine: false,
    pointStyle: 'line', rotation: 90, pointRadius: 15, pointHoverRadius: 15,
    borderColor: imageColors[i], borderWidth: 3.5
  });
});
extMeans.forEach((m, i) => {
  fitDatasets.push({
    label: imageNames[i] + ' mean', data: meanSpan.map(t => ({x: t, y: m})), showLine: true,
    borderColor: imageColors[i], borderWidth: 3, borderDash: [12, 9], borderDashOffset: i * 5,
    pointRadius: 0
  });
});

new Chart(document.getElementById('sp'), {
  type: 'scatter',
  data: {datasets: fitDatasets},
  options: {
    responsive: false,
    animation: false,
    events: [],
    devicePixelRatio: 1,
    layout: {padding: {left: 0, right: 0, top: 90.6, bottom: 65.4}},
    plugins: {
      legend: {display: false},
      tooltip: {enabled: false},
      decor: {title: 'Spline Fits', yMajor: fitTicks, yMinor: false, legend: true}
    },
    scales: {
      x: {type: 'linear', min: X_MIN, max: X_MAX, display: false},
      y: {
        type: 'linear', reverse: true, min: -0.4, max: 0.6,
        afterBuildTicks: s => { s.ticks = fitTicks.map(v => ({value: v})); },
        afterFit: s => { s.width = 256; },
        grid: {display: false, drawTicks: false},
        border: {display: false},
        ticks: {
          callback: v => (v < -1e-9 ? '\u2212' : '') + Math.abs(v).toFixed(1),
          font: {size: 45}, color: '#222', padding: 20
        }
      }
    }
  },
  plugins: [decor]
});
</script>
</body>
</html>
